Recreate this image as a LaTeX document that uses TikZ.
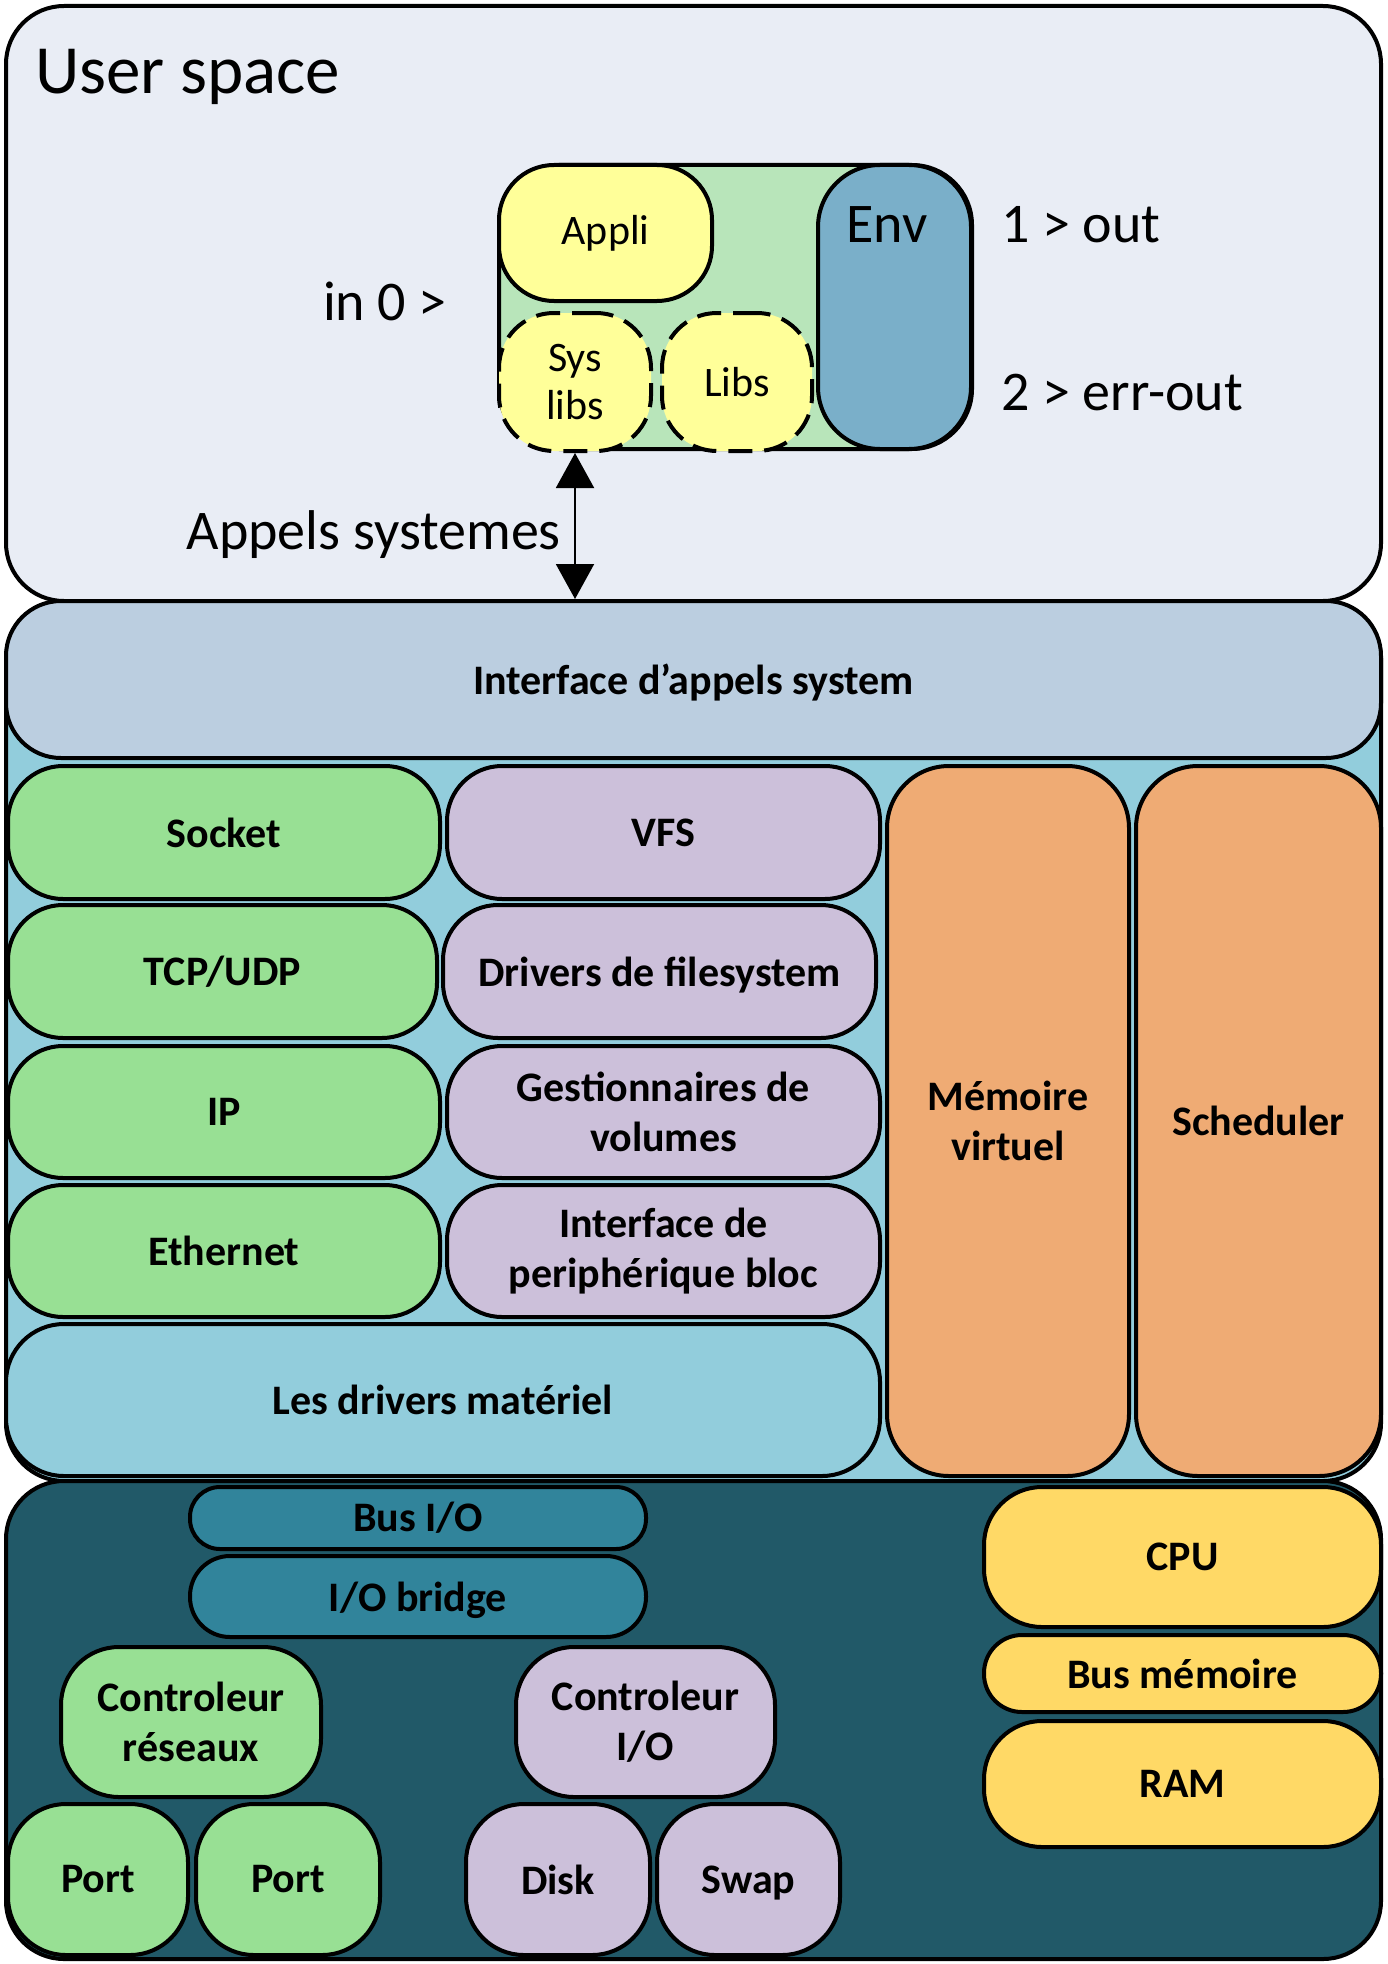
\documentclass[tikz,border=0pt]{standalone}
\usepackage{fontspec}
\setmainfont{Carlito}
\usetikzlibrary{arrows.meta}
\definecolor{userbg}{HTML}{E9EDF5}
\definecolor{appgreen}{HTML}{B8E5BA}
\definecolor{appyellow}{HTML}{FFFF99}
\definecolor{envblue}{HTML}{7AAFC9}
\definecolor{ifacebg}{HTML}{BBCEE0}
\definecolor{kernbg}{HTML}{92CDDC}
\definecolor{netgreen}{HTML}{98E094}
\definecolor{fslilac}{HTML}{CCC0DA}
\definecolor{coreorange}{HTML}{EFAB74}
\definecolor{hwbg}{HTML}{215968}
\definecolor{busteal}{HTML}{31849B}
\definecolor{cpuyellow}{HTML}{FFD966}
\tikzset{
    layer/.style={draw=black, line width=4pt, rounded corners=58pt, inner sep=0pt},
    blk/.style={draw=black, line width=4pt, rounded corners=#1, inner sep=0pt, align=center,
        font=\bfseries\fontsize{42}{50}\selectfont},
    blk/.default=55pt,
    lib/.style={draw=black, line width=4pt, rounded corners=55pt, inner sep=0pt, align=center,
        fill=appyellow, font=\fontsize{42}{48}\selectfont},
    usr/.style={inner sep=0pt, font=\fontsize{56}{66}\selectfont},
    syscall/.style={line width=2pt, {Triangle[length=35pt,width=38pt]}-{Triangle[length=35pt,width=38pt]}},
}

\begin{document}
\begin{tikzpicture}[x=1pt, y=-1pt]
    \useasboundingbox (0,0) rectangle (1387,1964);

    % user space
    \node[layer, fill=userbg, minimum width=1375pt, minimum height=595pt] (user) at (693.5,303.5) {};
    \node[anchor=base west, inner sep=0pt, font=\fontsize{69}{80}\selectfont] (usertitle) at (35,94) {User space};

    \node[layer, rounded corners=60pt, fill=appgreen, minimum width=473pt, minimum height=284pt] (proc) at (735.5,307) {};
    \node[lib, minimum width=213pt, minimum height=136pt] (appli) at (605.5,233) {Appli};
    \node[lib, dash pattern=on 24pt off 12pt, minimum width=152pt, minimum height=138pt] (syslibs) at (575,382) {Sys\\libs};
    \node[lib, dash pattern=on 24pt off 12pt, minimum width=150pt, minimum height=138pt] (libs) at (737,382) {Libs};
    \node[layer, rounded corners=62pt, fill=envblue, minimum width=153pt, minimum height=284pt] (env) at (894.5,307) {};
    \node[usr, anchor=base] (envlabel) at (887,242) {Env};

    \node[usr, anchor=base] (stdin) at (385,320) {in 0 >};
    \node[usr, anchor=base west] (stdout) at (1001,242) {1 > out};
    \node[usr, anchor=base west] (stderr) at (1001,410) {2 > err-out};
    \node[usr, anchor=base east] (syscalls) at (561,549) {Appels systemes};

    % kernel
    \node[layer, fill=kernbg, minimum width=1375pt, minimum height=880pt] (kernel) at (693.5,1041) {};
    \node[blk, fill=ifacebg, text depth=0pt, minimum width=1375pt, minimum height=157pt] (iface) at (693.5,679.5) {Interface d'appels system};

    \node[blk, fill=netgreen, minimum width=432pt, minimum height=133pt] (socket) at (224,832.5) {Socket};
    \node[blk, fill=netgreen, minimum width=429pt, minimum height=133pt] (tcp) at (222.5,971.5) {TCP/UDP};
    \node[blk, fill=netgreen, minimum width=432pt, minimum height=132pt] (ip) at (224,1112) {IP};
    \node[blk, fill=netgreen, minimum width=432pt, minimum height=132pt] (eth) at (224,1251) {Ethernet};

    \node[blk, fill=fslilac, minimum width=433pt, minimum height=133pt] (vfs) at (663.5,832.5) {VFS};
    \node[blk, fill=fslilac, text depth=0pt, minimum width=433pt, minimum height=133pt] (fsdrivers) at (659.5,971.5) {Drivers de filesystem};
    \node[blk, fill=fslilac, minimum width=433pt, minimum height=132pt] (volumes) at (663.5,1112) {Gestionnaires de\\volumes};
    \node[blk, fill=fslilac, minimum width=433pt, minimum height=132pt] (blockdev) at (663.5,1251) {Interface de\\periphérique bloc};

    \node[blk=58pt, fill=kernbg, minimum width=874pt, minimum height=152pt] (hwdrivers) at (443,1400) {Les drivers matériel};
    \node[blk=62pt, fill=coreorange, minimum width=242pt, minimum height=710pt] (vmem) at (1008,1121) {Mémoire\\virtuel};
    \node[blk=62pt, fill=coreorange, minimum width=245pt, minimum height=710pt] (sched) at (1258.5,1121) {Scheduler};

    % hardware
    \node[layer, fill=hwbg, minimum width=1375pt, minimum height=478pt] (hw) at (693.5,1720) {};
    \node[blk=30pt, fill=busteal, minimum width=456pt, minimum height=62pt] (busio) at (418,1518) {Bus I/O};
    \node[blk=40pt, fill=busteal, text depth=0pt, minimum width=456pt, minimum height=81pt] (iobridge) at (418,1596.5) {I/O bridge};
    \node[blk=58pt, fill=netgreen, minimum width=260pt, minimum height=150pt] (netctrl) at (191,1722) {Controleur\\réseaux};
    \node[blk=58pt, fill=fslilac, minimum width=259pt, minimum height=150pt] (ioctrl) at (645.5,1722) {Controleur\\I/O};
    \node[blk=58pt, fill=netgreen, minimum width=180pt, minimum height=151pt] (port1) at (98,1879.5) {Port};
    \node[blk=58pt, fill=netgreen, minimum width=184pt, minimum height=151pt] (port2) at (288,1879.5) {Port};
    \node[blk=58pt, fill=fslilac, minimum width=184pt, minimum height=151pt] (disk) at (558,1879.5) {Disk};
    \node[blk=58pt, fill=fslilac, text depth=0pt, minimum width=183pt, minimum height=151pt] (swap) at (748.5,1879.5) {Swap};
    \node[blk=58pt, fill=cpuyellow, minimum width=397pt, minimum height=140pt] (cpu) at (1182.5,1557) {CPU};
    \node[blk=38pt, fill=cpuyellow, minimum width=397pt, minimum height=77pt] (membus) at (1182.5,1673.5) {Bus mémoire};
    \node[blk=58pt, fill=cpuyellow, minimum width=397pt, minimum height=126pt] (ram) at (1182.5,1784) {RAM};

    \draw[syscall] (syslibs.south) -- (syslibs.south |- iface.north);
\end{tikzpicture}
\end{document}
